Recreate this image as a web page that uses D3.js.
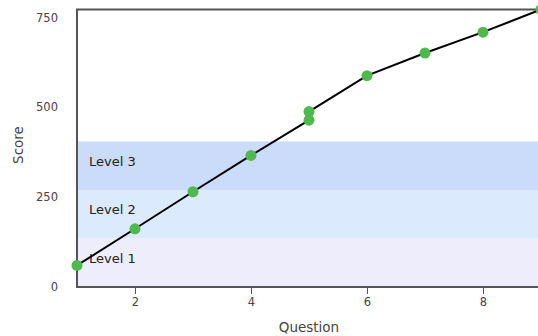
<!DOCTYPE html>
<html><head><meta charset="utf-8">
<script src="https://cdn.jsdelivr.net/npm/d3@7"></script>
<style>body{margin:0;background:#fff}svg{display:block}text{font-family:"DejaVu Sans",sans-serif}</style>
</head><body><svg id="c" width="538" height="336"></svg>
<script>
const questions = [1, 2, 3, 4, 5, 5, 6, 7, 8, 9];
const scores = [60, 162, 265, 366, 464, 488, 588, 651, 709, 772];
const levelNames = ["Level 1", "Level 2", "Level 3"];
const levelLows = [0, 135, 270];
const levelHighs = [135, 270, 405];
const levelColors = ["#eeedfb", "#dbeafc", "#cadcf9"];
const xTicks = [2, 4, 6, 8];
const yTicks = [0, 250, 500, 750];

const svg = d3.select("#c");
const L = 77, R = 541, T = 9.5, B = 287;
const x = d3.scaleLinear().domain([1, 9]).range([L, R]);
const y = d3.scaleLinear().domain([0, 772]).range([B, T]);

svg.selectAll("rect.band").data(levelNames).enter().append("rect")
  .attr("x", L).attr("width", R - L)
  .attr("y", (d, i) => y(levelHighs[i]))
  .attr("height", (d, i) => y(levelLows[i]) - y(levelHighs[i]))
  .attr("fill", (d, i) => levelColors[i]);

svg.selectAll("text.lvl").data(levelNames).enter().append("text")
  .attr("x", 89).attr("y", (d, i) => (y(levelLows[i]) + y(levelHighs[i])) / 2)
  .attr("font-size", 13).attr("fill", "#222").text(d => d);

// frame
svg.append("path").attr("d", `M${R},${T}H${L}V${B}H${R}`)
  .attr("fill", "none").attr("stroke", "#555").attr("stroke-width", 2);

const xAxis = svg.append("g").attr("transform", `translate(0,${B})`)
  .call(d3.axisBottom(x).tickValues(xTicks).tickSize(7).tickPadding(4));
xAxis.select(".domain").remove();
xAxis.selectAll("line").attr("stroke", "#555");
xAxis.selectAll("text").attr("font-size", 11.5).attr("fill", "#444").attr("font-family", "DejaVu Sans");

const yAxis = svg.append("g").attr("transform", `translate(${L},0)`)
  .call(d3.axisLeft(y).tickValues(yTicks).tickSize(0).tickPadding(19));
yAxis.select(".domain").remove();
yAxis.selectAll("text").attr("font-size", 11.5).attr("fill", "#444").attr("font-family", "DejaVu Sans");

svg.append("text").attr("x", 309).attr("y", 332).attr("text-anchor", "middle")
  .attr("font-size", 13.5).attr("fill", "#444").text("Question");
svg.append("text").attr("transform", "translate(23,145) rotate(-90)").attr("text-anchor", "middle")
  .attr("font-size", 13.5).attr("fill", "#444").text("Score");

const pts = questions.map((q, i) => [q, scores[i]]);
const g = svg.append("g");
g.append("path").datum(pts)
  .attr("d", d3.line().x(d => x(d[0])).y(d => y(d[1])))
  .attr("fill", "none").attr("stroke", "#000").attr("stroke-width", 2);
g.selectAll("circle").data(pts).enter().append("circle")
  .attr("cx", d => x(d[0])).attr("cy", d => y(d[1])).attr("r", 5.5)
  .attr("fill", "#4fb94f");
</script></body></html>
